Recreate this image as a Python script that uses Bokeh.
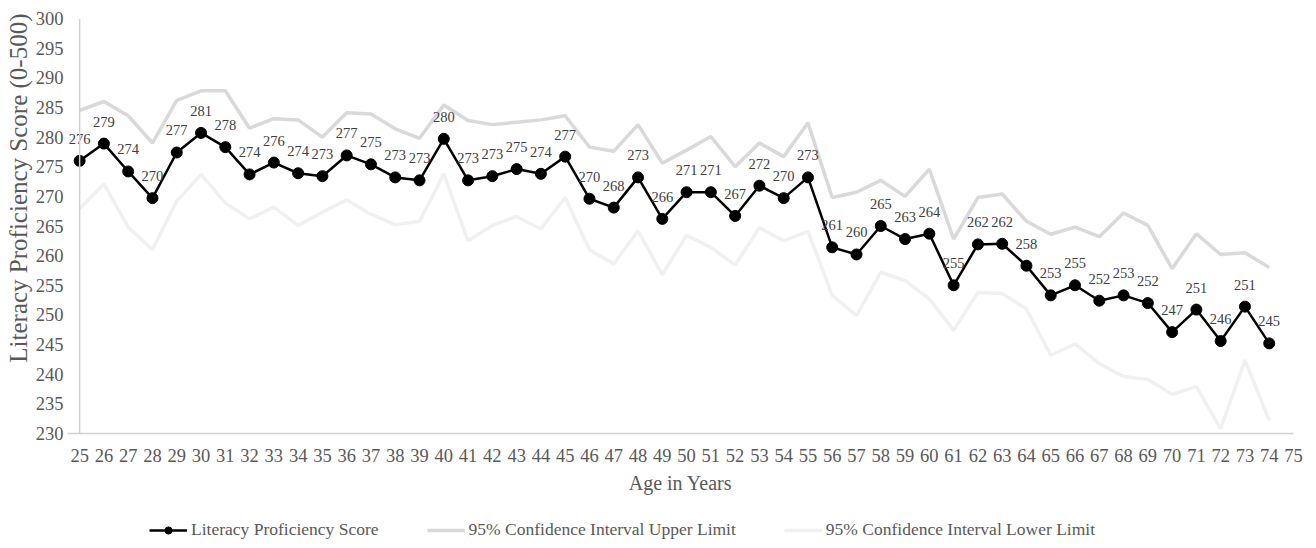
from bokeh.plotting import figure
from bokeh.layouts import column
from bokeh.models import (FixedTicker, Range1d, Legend, LegendItem, Title,
                          LabelSet, ColumnDataSource, Span)
from bokeh.embed import file_html
from bokeh.resources import INLINE

# ---------------- data ----------------
ages = [25, 26, 27, 28, 29, 30, 31, 32, 33, 34, 35, 36, 37, 38, 39, 40, 41, 42,
        43, 44, 45, 46, 47, 48, 49, 50, 51, 52, 53, 54, 55, 56, 57, 58, 59, 60,
        61, 62, 63, 64, 65, 66, 67, 68, 69, 70, 71, 72, 73, 74]

score = [276.0, 278.9, 274.2, 269.7, 277.4, 280.7, 278.3, 273.7, 275.7, 273.9,
         273.4, 276.9, 275.4, 273.2, 272.7, 279.7, 272.7, 273.4, 274.6, 273.8,
         276.7, 269.6, 268.1, 273.2, 266.2, 270.7, 270.7, 266.7, 271.8, 269.7,
         273.2, 261.4, 260.2, 265.0, 262.8, 263.7, 255.0, 261.9, 262.0, 258.3,
         253.3, 255.0, 252.4, 253.3, 252.0, 247.1, 250.9, 245.6, 251.4, 245.2]

upper = [284.5, 286.0, 283.6, 279.0, 286.2, 287.8, 287.8, 281.5, 283.1, 282.9,
         280.0, 284.1, 283.9, 281.4, 279.8, 285.4, 282.8, 282.1, 282.5, 282.9,
         283.6, 278.3, 277.6, 282.1, 275.6, 277.8, 280.1, 275.0, 279.0, 276.7,
         282.4, 269.8, 270.7, 272.7, 270.0, 274.6, 262.8, 269.8, 270.4, 265.8,
         263.6, 264.8, 263.2, 267.2, 265.1, 257.8, 263.7, 260.2, 260.5, 258.0]

lower = [267.9, 272.1, 264.8, 261.0, 269.2, 273.7, 268.9, 266.2, 268.2, 265.1,
         267.3, 269.4, 267.0, 265.2, 265.8, 273.8, 262.5, 265.1, 266.6, 264.5,
         269.8, 261.0, 258.6, 264.2, 256.8, 263.4, 261.4, 258.4, 264.7, 262.5,
         264.1, 253.3, 249.9, 257.2, 255.8, 252.7, 247.4, 253.8, 253.6, 251.0,
         243.2, 245.1, 241.8, 239.6, 239.1, 236.6, 237.9, 230.8, 242.4, 232.2]

x_ticks = [25, 26, 27, 28, 29, 30, 31, 32, 33, 34, 35, 36, 37, 38, 39, 40, 41,
           42, 43, 44, 45, 46, 47, 48, 49, 50, 51, 52, 53, 54, 55, 56, 57, 58,
           59, 60, 61, 62, 63, 64, 65, 66, 67, 68, 69, 70, 71, 72, 73, 74, 75]
y_ticks = [230, 235, 240, 245, 250, 255, 260, 265, 270, 275, 280, 285, 290, 295, 300]

series_names = ["Literacy Proficiency Score",
                "95% Confidence Interval Upper Limit",
                "95% Confidence Interval Lower Limit"]
x_title = "Age in Years"
y_title = "Literacy Proficiency Score (0-500)"

FONT = "Liberation Serif"
TXT = "#595959"
AXIS_C = "#d0d0d0"
C_SCORE = "black"
C_UP = "#d9d9d9"
C_LO = "#f0f0f0"

src = ColumnDataSource(dict(age=ages, score=score, upper=upper, lower=lower,
                            lab=[f"{v:.0f}" for v in score]))

# half a category of room left of the first age so its label is not clipped
p = figure(frame_width=1226, frame_height=415, output_backend="svg",
           toolbar_location=None,
           x_range=Range1d(24.5, 75), y_range=Range1d(230, 300),
           min_border_left=67, min_border_right=23, min_border_top=18,
           min_border_bottom=72)

p.line("age", "upper", source=src, line_color=C_UP, line_width=3.5)
p.line("age", "lower", source=src, line_color=C_LO, line_width=3.5)
p.line("age", "score", source=src, line_color=C_SCORE, line_width=2.5)
p.scatter("age", "score", source=src, size=11, fill_color=C_SCORE,
          line_color=C_SCORE)

labels = LabelSet(x="age", y="score", text="lab", source=src, y_offset=22,
                  text_align="center", text_baseline="middle",
                  text_font=FONT, text_font_size="14.5px", text_color="#404040")
p.add_layout(labels)

# axes
for ax in (p.xaxis[0], p.yaxis[0]):
    ax.major_tick_line_color = None
    ax.minor_tick_line_color = None
    ax.major_tick_out = 0
    ax.major_tick_in = 0
    ax.minor_tick_out = 0
    ax.minor_tick_in = 0
    ax.axis_line_color = AXIS_C
    ax.axis_line_width = 1.5
    ax.major_label_text_font = FONT
    ax.major_label_text_font_size = "18.5px"
    ax.major_label_text_color = TXT

p.yaxis.axis_line_color = None
p.add_layout(Span(location=ages[0], dimension="height", line_color=AXIS_C,
                  line_width=1.5))

p.xaxis.ticker = FixedTicker(ticks=x_ticks)
p.yaxis.ticker = FixedTicker(ticks=y_ticks)
p.xaxis.major_label_standoff = 15
p.yaxis.major_label_standoff = 4
p.xaxis.axis_label = x_title
p.xaxis.axis_label_text_font = FONT
p.xaxis.axis_label_text_font_size = "20px"
p.xaxis.axis_label_text_font_style = "normal"
p.xaxis.axis_label_text_color = TXT
p.xaxis.axis_label_standoff = 7

ytitle = Title(text=y_title, align="right", offset=-5, standoff=2,
               text_font=FONT, text_font_size="25px",
               text_font_style="normal", text_color=TXT)
p.add_layout(ytitle, "left")

p.xgrid.grid_line_color = None
p.ygrid.grid_line_color = None
p.outline_line_color = None

# ---------------- legend strip under the chart ----------------
lf = figure(width=1316, height=43, output_backend="svg", toolbar_location=None,
            x_range=Range1d(0, 1), y_range=Range1d(0, 1),
            x_axis_location=None, y_axis_location=None, min_border=0)
lf.xgrid.grid_line_color = None
lf.ygrid.grid_line_color = None
lf.outline_line_color = None
# legend proxies: one point each, outside the visible range of the strip
proxy = ColumnDataSource(dict(x=[-5], y=[-5]))
k_sl = lf.line("x", "y", source=proxy, line_color=C_SCORE, line_width=2.5)
k_sm = lf.scatter("x", "y", source=proxy, size=11, fill_color=C_SCORE,
                  line_color=C_SCORE)
k_up = lf.line("x", "y", source=proxy, line_color=C_UP, line_width=3.5)
k_lo = lf.line("x", "y", source=proxy, line_color=C_LO, line_width=3.5)

legend = Legend(items=[LegendItem(label=series_names[0], renderers=[k_sl, k_sm]),
                       LegendItem(label=series_names[1], renderers=[k_up]),
                       LegendItem(label=series_names[2], renderers=[k_lo])],
                orientation="horizontal", location=(82, 8),
                label_text_font=FONT, label_text_font_size="17.5px",
                label_text_color=TXT, glyph_width=38, glyph_height=18,
                label_height=18,
                label_standoff=4, spacing=48, padding=0, margin=0,
                border_line_color=None, background_fill_alpha=0)
lf.add_layout(legend, "center")

open("out.html", "w").write(file_html(column(p, lf, spacing=0), INLINE))
